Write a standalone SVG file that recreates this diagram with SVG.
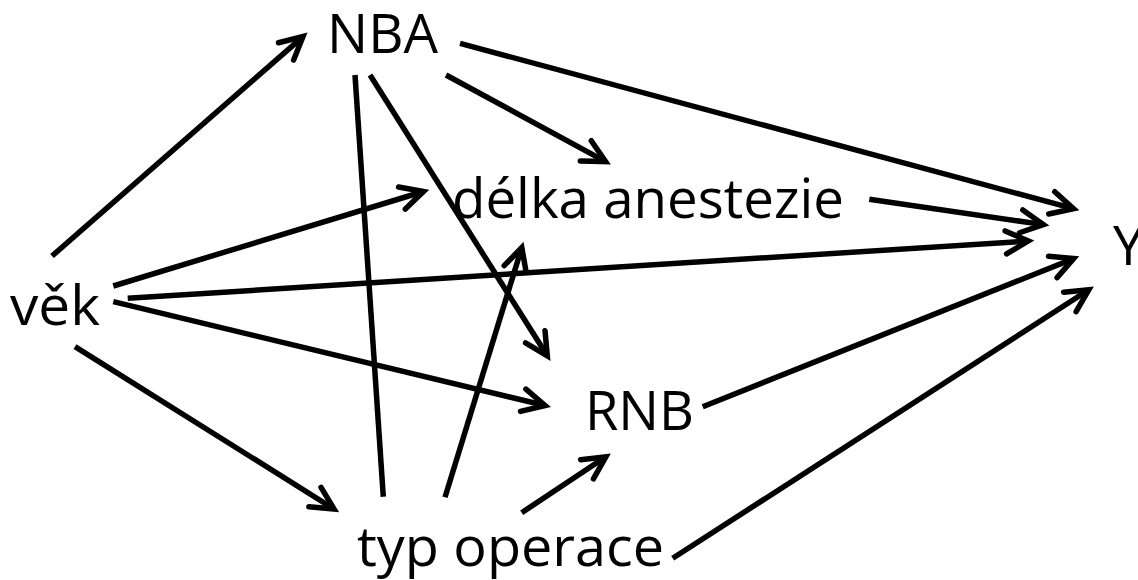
<svg xmlns="http://www.w3.org/2000/svg" width="1138" height="580" viewBox="0 0 1138 580">
<style>
.lbl{font-family:"Open Sans","Liberation Sans",sans-serif;font-size:55px;fill:#000}
.e{stroke:#000;stroke-width:5.5;fill:none}
.a{marker-end:url(#ah)}
</style>
<defs>
<marker id="ah" markerUnits="userSpaceOnUse" viewBox="-30 -16 40 32" markerWidth="40" markerHeight="32" refX="0" refY="0" orient="auto">
<path d="M-22.5 -11.5 L0 0 L-22.5 11.5" fill="none" stroke="#000" stroke-width="5.5" stroke-linecap="round" stroke-linejoin="miter"/>
</marker>
</defs>
<rect width="1138" height="580" fill="#fff"/>
<g id="connectors">
<line class="e a" x1="52" y1="256" x2="303" y2="36.6"/>
<line class="e a" x1="113.3" y1="286" x2="423.5" y2="191.5"/>
<line class="e a" x1="127.7" y1="298.3" x2="1028.3" y2="241"/>
<line class="e a" x1="113.3" y1="301.7" x2="545.1" y2="405.5"/>
<line class="e a" x1="75" y1="346.7" x2="334" y2="509"/>
<line class="e a" x1="446" y1="75" x2="605.6" y2="161.6"/>
<line class="e a" x1="460" y1="43.3" x2="1073.5" y2="208.7"/>
<line class="e a" x1="370" y1="75" x2="547.3" y2="355.8"/>
<line class="e" x1="355" y1="75" x2="383.3" y2="496.7"/>
<line class="e a" x1="445" y1="497.3" x2="521.8" y2="247.5"/>
<line class="e a" x1="521.7" y1="512.7" x2="605.8" y2="456.8"/>
<line class="e a" x1="672.7" y1="558.3" x2="1088.8" y2="289.7"/>
<line class="e a" x1="869.3" y1="199.3" x2="1043.4" y2="224.6"/>
<line class="e a" x1="702.7" y1="406.7" x2="1073.7" y2="258.6"/>
</g>
<g id="node-NBA"><text class="lbl" x="327" y="53" textLength="111" lengthAdjust="spacingAndGlyphs">NBA</text></g>
<g id="node-delka"><text class="lbl" x="452" y="218" textLength="392" lengthAdjust="spacingAndGlyphs">délka anestezie</text></g>
<g id="node-vek"><text class="lbl" x="10" y="325" textLength="90" lengthAdjust="spacingAndGlyphs">věk</text></g>
<g id="node-RNB"><text class="lbl" x="585" y="430" textLength="109" lengthAdjust="spacingAndGlyphs">RNB</text></g>
<g id="node-typ"><text class="lbl" x="357" y="566" textLength="307" lengthAdjust="spacingAndGlyphs">typ operace</text></g>
<g id="node-Y"><text class="lbl" x="1113" y="265">Y</text></g>
</svg>
